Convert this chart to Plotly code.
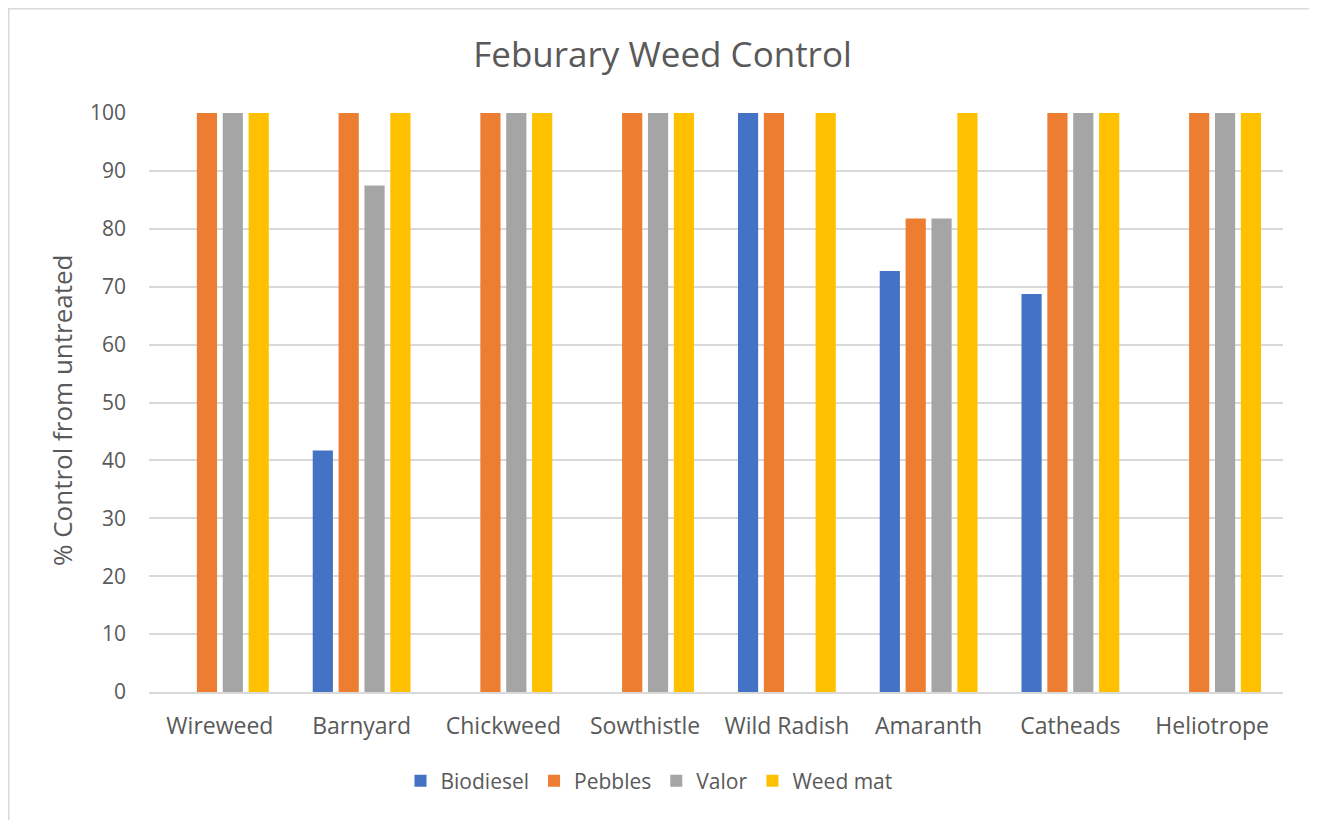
import plotly.graph_objects as go

categories = ["Wireweed", "Barnyard", "Chickweed", "Sowthistle", "Wild Radish", "Amaranth", "Catheads", "Heliotrope"]
biodiesel = [0, 41.7, 0, 0, 100, 72.7, 68.75, 0]
pebbles = [100, 100, 100, 100, 100, 81.8, 100, 100]
valor = [100, 87.5, 100, 100, 0, 81.8, 100, 100]
weed_mat = [100, 100, 100, 100, 100, 100, 100, 100]

series = [("Biodiesel", biodiesel, "#4472C4"),
          ("Pebbles", pebbles, "#ED7D31"),
          ("Valor", valor, "#A5A5A5"),
          ("Weed mat", weed_mat, "#FFC000")]

FONT = "Open Sans"
TXT = "#595959"

fig = go.Figure()
for name, vals, col in series:
    fig.add_trace(go.Bar(x=categories, y=vals, name=name, marker_color=col,
                         marker_line_width=0))

# page body has an 8px margin; figure coords = screen coords - 8
W, H = 1309, 812
L, R, T, B = 141, 34, 105, 128
pw, ph = W - L - R, H - T - B

def px_x(x):
    return (x - L) / pw

def px_y(y):
    return (H - B - y) / ph

fig.update_layout(
    width=W, height=H,
    margin=dict(l=L, r=R, t=T, b=B),
    paper_bgcolor="white", plot_bgcolor="white",
    barmode="group", bargap=0.27, bargroupgap=0.22,
    font=dict(family=FONT, color=TXT, size=20),
    title=dict(text="Feburary Weed Control", x=0.5, xref="container", xanchor="center",
               y=1 - 47 / H, yanchor="middle", yref="container",
               font=dict(size=35, color=TXT, family=FONT)),
    showlegend=True,
    legend=dict(orientation="h", x=px_x(641), xanchor="center", y=px_y(773), yanchor="middle",
                font=dict(size=21, color=TXT, family=FONT), itemwidth=30, traceorder="normal"),
    xaxis=dict(showgrid=False, showline=True, linecolor="#D9D9D9", linewidth=1.5,
               ticks="", ticklabelstandoff=13, tickfont=dict(size=23, color=TXT),
               fixedrange=True),
    yaxis=dict(range=[0, 100], dtick=10, showgrid=True, gridcolor="#D9D9D9", gridwidth=1.5,
               zeroline=False, showline=False, ticks="", ticklabelstandoff=22,
               tickfont=dict(size=21, color=TXT),
               fixedrange=True),
)

fig.add_annotation(text="% Control from untreated", textangle=-90, showarrow=False,
                   xref="paper", yref="paper", x=px_x(54), y=px_y(402),
                   xanchor="center", yanchor="middle",
                   font=dict(size=26, color=TXT, family=FONT))

fig.add_shape(type="rect", xref="paper", yref="paper",
              x0=px_x(0.75), x1=px_x(1305), y0=px_y(830), y1=px_y(0.75),
              line=dict(color="#D9D9D9", width=1.5), fillcolor="rgba(0,0,0,0)", layer="below")

fig.write_html("out.html")
